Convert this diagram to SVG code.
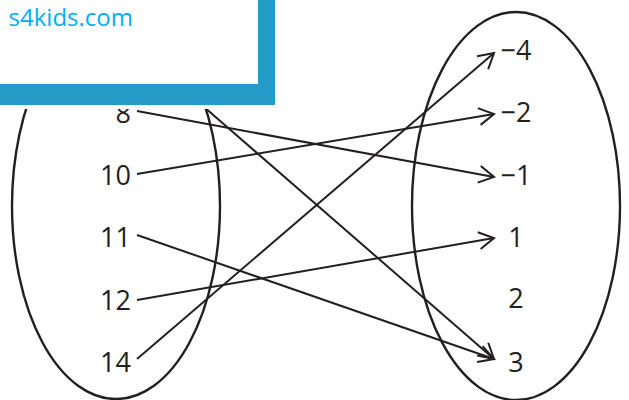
<svg xmlns="http://www.w3.org/2000/svg" width="629" height="400" viewBox="0 0 629 400">
<defs>
<style>
.lbl{font-family:"Open Sans","Noto Sans",sans-serif;font-size:27px;fill:#231f20}
.l{text-anchor:end}
.r{text-anchor:middle}
.set{fill:none;stroke:#231f20;stroke-width:2.4}
.edge{fill:none;stroke:#231f20;stroke-width:2;marker-end:url(#ah)}
</style>
<marker id="ah" markerUnits="userSpaceOnUse" markerWidth="24" markerHeight="24" viewBox="-20 -12 24 24" refX="0" refY="0" orient="auto" overflow="visible">
<path d="M-15,-8.5 L0,0 L-15,8.5" fill="none" stroke="#231f20" stroke-width="2"/>
</marker>
</defs>
<rect width="629" height="400" fill="#fff"/>
<g id="domain">
<ellipse class="set" cx="116" cy="206" rx="104" ry="193"/>
<text class="lbl l" x="131" y="123">8</text>
<text class="lbl l" x="131" y="185">10</text>
<text class="lbl l" x="131" y="247">11</text>
<text class="lbl l" x="131" y="310">12</text>
<text class="lbl l" x="131" y="372">14</text>
</g>
<g id="range">
<ellipse class="set" cx="516" cy="206" rx="104" ry="194"/>
<text class="lbl r" x="516" y="60">−4</text>
<text class="lbl r" x="516" y="122">−2</text>
<text class="lbl r" x="516" y="185">−1</text>
<text class="lbl r" x="516" y="247">1</text>
<text class="lbl r" x="516" y="308">2</text>
<text class="lbl r" x="516" y="372">3</text>
</g>
<g id="connectors">
<line class="edge" x1="137" y1="111" x2="494" y2="177"/>
<line class="edge" x1="137" y1="174" x2="494" y2="114"/>
<line class="edge" x1="137" y1="235" x2="494" y2="359"/>
<line class="edge" x1="137" y1="300" x2="494" y2="238"/>
<line class="edge" x1="137" y1="359" x2="494" y2="53"/>
<line class="edge" x1="196" y1="100" x2="494" y2="359"/>
</g>
<g id="banner">
<rect x="-10" y="-10" width="289" height="119" fill="#fff"/>
<rect x="-10" y="-10" width="285" height="115" fill="#259ac6"/>
<rect x="-10" y="-10" width="268" height="94" fill="#fff"/>
<text x="133" y="26" text-anchor="end" font-family="Open Sans, Noto Sans, sans-serif" font-size="24" fill="#00aeef">s4kids.com</text>
</g>
</svg>
